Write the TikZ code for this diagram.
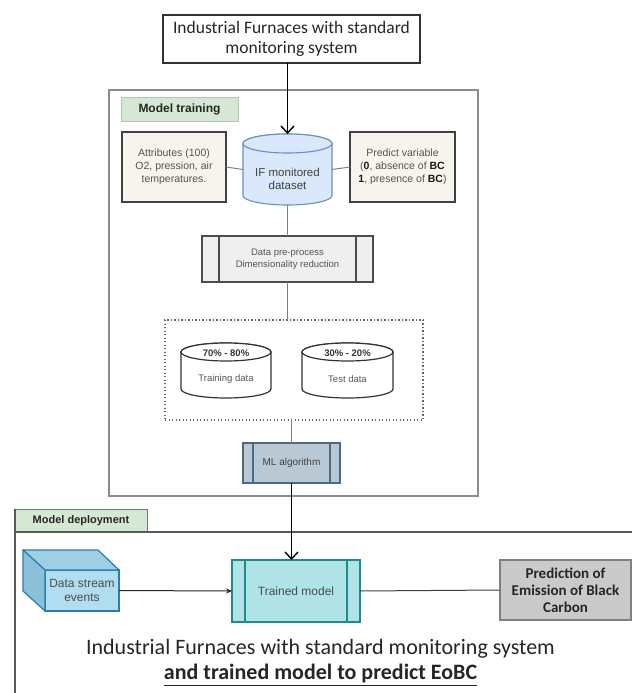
\documentclass[tikz,border=0pt]{standalone}
\usepackage{fontspec}
\setmainfont{Liberation Sans}
\newfontfamily\calibri{Carlito}
\usetikzlibrary{arrows.meta,calc}
\definecolor{txtg}{HTML}{555555}
\definecolor{tabgreen}{HTML}{D5E8D4}
\definecolor{beige}{HTML}{F6F4EC}
\definecolor{cylblue}{HTML}{DAE8FC}
\definecolor{cylstroke}{HTML}{6C8EBF}
\definecolor{procfill}{HTML}{EFEFEF}
\definecolor{mlfill}{HTML}{BAC8D6}
\definecolor{mlstroke}{HTML}{4A6A85}
\definecolor{tmfill}{HTML}{B0E3E6}
\definecolor{tmstroke}{HTML}{1D8A90}
\definecolor{dsfill}{HTML}{B1DDF0}
\definecolor{dstop}{HTML}{9ECFE6}
\definecolor{dsside}{HTML}{8AC0DA}
\definecolor{dsstroke}{HTML}{2A7FA8}
\definecolor{predfill}{HTML}{CACACA}
\newcommand\drawcyl[4]{%
  \path[#4] ($(#1.north west)+(0,#3)$) -- ($(#1.south west)+(0,-#3)$)
    arc[start angle=180,end angle=360,x radius=#2pt,y radius=#3pt]
    -- ($(#1.north east)+(0,#3)$)
    arc[start angle=0,end angle=180,x radius=#2pt,y radius=#3pt] -- cycle;
  \path[#4] ($(#1.north)+(0,#3)$) ellipse[x radius=#2pt,y radius=#3pt];
}
\begin{document}
\begin{tikzpicture}[x=1pt,y=-1pt,
  every node/.style={inner sep=0pt,outer sep=0pt,align=center},
  conn/.style={draw=black!50,line width=1pt},
  openarr/.style={draw=black,line width=1.4pt,-{Straight Barb[length=7pt,width=13pt]}},
  smallarr/.style={draw=black!85,line width=1pt,-{Stealth[length=6pt,width=5pt]}},
  beigebox/.style={draw=black!75,line width=1.4pt,fill=beige,text=txtg,
    font=\fontsize{10.5}{13.2}\selectfont},
  proc/.style={line width=1.2pt}]
\useasboundingbox (0,0) rectangle (632,693);
\fill[white] (0,0) rectangle (632,693);

% ---------- top box ----------
\node[draw=black!80,line width=1.2pt,fill=white,minimum width=257pt,minimum height=48pt,
  font=\calibri\fontsize{17.5}{20}\selectfont,text=black!85] (top) at (291.5,39)
  {Industrial Furnaces with standard\\monitoring system};

% ---------- model training ----------
\node[draw=black!45,line width=1.1pt,minimum width=369pt,minimum height=406pt] (mt) at (293.5,293) {};
\node[fill=tabgreen,draw=tabgreen!85!black,line width=0.5pt,minimum width=117pt,minimum height=24pt,
  font=\bfseries\fontsize{12}{14}\selectfont,text=black!85] (mttab) at (179.5,109) {Model training};

\node[beigebox,minimum width=104pt,minimum height=70pt] (attr) at (174,167)
  {Attributes (100)\\O2, pression, air\\temperatures.};
\node[beigebox,minimum width=105pt,minimum height=70pt] (pred) at (402.5,167)
  {Predict variable\\(\textbf{\color{black!90}0}, absence of \textbf{\color{black!90}BC}\\
   \textbf{\color{black!90}1}, presence of \textbf{\color{black!90}BC})};

\node[minimum width=89pt,minimum height=71pt] (ifds) at (287.5,169.5) {};
\drawcyl{ifds}{44.5}{9.5}{fill=cylblue,draw=cylstroke,line width=1.1pt}
\node[text=black!75,font=\fontsize{11.5}{13}\selectfont] (ifdst) at (287.5,178.5) {IF monitored\\dataset};

\draw[conn] (attr.east) -- (ifds.west);
\draw[conn] (ifds.east) -- (pred.west);
\draw[openarr] (top.south -| ifds.north) -- (ifds.north);

\node[draw=black!70,fill=procfill,proc,minimum width=171pt,minimum height=46pt,
  text=txtg,font=\fontsize{9.5}{11.5}\selectfont] (prep) at (287.5,259)
  {Data pre-process\\Dimensionality reduction};
\draw[black!70,proc] ($(prep.north west)+(17,0)$) -- ($(prep.south west)+(17,0)$);
\draw[black!70,proc] ($(prep.north east)+(-17,0)$) -- ($(prep.south east)+(-17,0)$);
\draw[conn] (ifds.south) -- (prep.north);

\node[draw=black!60,line width=1.3pt,dash pattern=on 1.3pt off 2.2pt,
  minimum width=258pt,minimum height=100pt] (split) at (294,370) {};
\draw[conn] (prep.south) -- (prep.south |- split.north);

\node[minimum width=90pt,minimum height=55pt] (train) at (226,370.5) {};
\drawcyl{train}{45}{9}{fill=white,draw=black!80,line width=1.2pt}
\node[font=\bfseries\fontsize{9.5}{11}\selectfont,text=black!80] (trainp) at (226,353) {70\% - 80\%};
\node[font=\fontsize{9.5}{11}\selectfont,text=txtg] (traint) at (226,379) {Training data};

\node[minimum width=91pt,minimum height=55pt] (test) at (347.5,370.5) {};
\drawcyl{test}{45.5}{9}{fill=white,draw=black!80,line width=1.2pt}
\node[font=\bfseries\fontsize{9.5}{11}\selectfont,text=black!80] (testp) at (347.5,353) {30\% - 20\%};
\node[font=\fontsize{9.5}{11}\selectfont,text=txtg] (testt) at (347.5,379) {Test data};

\node[draw=mlstroke,fill=mlfill,proc,minimum width=97pt,minimum height=40pt,
  text=black!75,font=\fontsize{10}{12}\selectfont] (ml) at (291.5,463) {ML algorithm};
\draw[mlstroke,proc] ($(ml.north west)+(10,0)$) -- ($(ml.south west)+(10,0)$);
\draw[mlstroke,proc] ($(ml.north east)+(-10,0)$) -- ($(ml.south east)+(-10,0)$);
\draw[conn] (ml.north |- split.south) -- (ml.north);

% ---------- model deployment ----------
\node[fill=tabgreen,draw=black!55,line width=1pt,minimum width=132pt,minimum height=23pt,
  font=\bfseries\fontsize{11}{13}\selectfont,text=black!85] (mdtab) at (81,520.5) {Model deployment};
\coordinate (dtr) at (632,532);
\coordinate (dbl) at (15,693);
\draw[black!65,line width=1.2pt] (mdtab.south west) -- (dtr);
\draw[black!65,line width=1.2pt] (mdtab.north west) -- (dbl);

\node[fill=dsfill,draw=dsstroke,line width=1.2pt,minimum width=74pt,minimum height=41pt,
  text=black!70,font=\fontsize{12}{13.5}\selectfont] (ds) at (82,590.5) {Data stream\\events};
\draw[fill=dstop,draw=dsstroke,line width=1.2pt,line join=round]
  (ds.north west) -- ++(-22,-20) -- ++(75,0) -- (ds.north east) -- cycle;
\draw[fill=dsside,draw=dsstroke,line width=1.2pt,line join=round]
  (ds.north west) -- ++(-22,-20) -- ++(0,41) -- (ds.south west) -- cycle;

\node[draw=tmstroke,fill=tmfill,line width=1.5pt,minimum width=128pt,minimum height=62pt,
  text=black!70,font=\fontsize{12}{14}\selectfont] (tm) at (296,591) {Trained model};
\draw[tmstroke,line width=1.5pt] ($(tm.north west)+(13,0)$) -- ($(tm.south west)+(13,0)$);
\draw[tmstroke,line width=1.5pt] ($(tm.north east)+(-13,0)$) -- ($(tm.south east)+(-13,0)$);

\node[draw=black!50,fill=predfill,line width=1.2pt,minimum width=131pt,minimum height=60pt,
  text=black!85,font=\calibri\bfseries\fontsize{15}{17}\selectfont] (pr) at (565.5,590)
  {Prediction of\\Emission of Black\\Carbon};

\draw[openarr] (ml.south) -- (ml.south |- tm.north);
\draw[smallarr] (ds.east) -- (tm.west);
\draw[black!75,line width=1pt] (tm.east) -- (pr.west);

\node[font=\calibri\fontsize{22}{25}\selectfont,text=black!85] (cap) at (320.5,662.5)
  {Industrial Furnaces with standard monitoring system\\
   \textbf{\underline{and trained model to predict EoBC}}};
\end{tikzpicture}
\end{document}
